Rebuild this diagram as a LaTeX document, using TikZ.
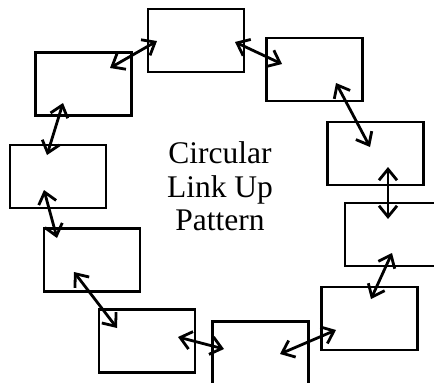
\documentclass[tikz,border=0pt]{standalone}
\usepackage{fontspec}
\setmainfont{Liberation Serif}
\usetikzlibrary{arrows.meta}

\tikzset{
    linkbox/.style={draw,line width=2.2pt,minimum width=96pt,minimum height=63pt,inner sep=0pt},
    linkup/.style={line width=2.8pt,{Straight Barb[length=11pt,width=18pt,line width=2.8pt]}-{Straight Barb[length=11pt,width=18pt,line width=2.8pt]}}
}

\begin{document}
\begin{tikzpicture}[x=1pt,y=-1pt]
        \useasboundingbox (0,0) rectangle (434,383);
        \node [linkbox] (top) at (196,40.5) {};
        \node [linkbox] (upleft) at (83.5,84) {};
        \node [linkbox] (left) at (58,176.5) {};
        \node [linkbox] (lowleft) at (92,260) {};
        \node [linkbox] (botleft) at (147,341) {};
        \node [linkbox] (bottom) at (260.5,353) {};
        \node [linkbox] (botright) at (369.5,318.5) {};
        \node [linkbox] (right) at (393,234.5) {};
        \node [linkbox] (rightup) at (375.5,153.5) {};
        \node [linkbox] (upright) at (314.5,69.5) {};
        \node [anchor=north,inner sep=0pt,align=center,font=\fontsize{31.5}{33.5}\selectfont] (title) at (220,141.5) {Circular\\Link Up\\Pattern};
        \draw [linkup] ([shift={(39,1.5)}]top.center) -- ([shift={(-32.5,-5.5)}]upright.center);
        \draw [linkup] ([shift={(-39,0.5)}]top.center) -- ([shift={(26.5,-16)}]upleft.center);
        \draw [linkup] ([shift={(-20.5,19)}]upleft.center) -- ([shift={(-11,-21.5)}]left.center);
        \draw [linkup] ([shift={(-14,13.5)}]left.center) -- ([shift={(-35,-22)}]lowleft.center);
        \draw [linkup] ([shift={(-18,12)}]lowleft.center) -- ([shift={(-30,-13)}]botleft.center);
        \draw [linkup] ([shift={(31,-4)}]botleft.center) -- ([shift={(-36.5,-4)}]bottom.center);
        \draw [linkup] ([shift={(19.5,1)}]bottom.center) -- ([shift={(-33.5,11.5)}]botright.center);
        \draw [linkup] ([shift={(1.5,-19.5)}]botright.center) -- ([shift={(-1,18.5)}]right.center);
        \draw [linkup] ([shift={(-5,-15.5)}]right.center) -- ([shift={(12.5,13.5)}]rightup.center);
        \draw [linkup] ([shift={(-5.5,-6.5)}]rightup.center) -- ([shift={(21.5,13.5)}]upright.center);
\end{tikzpicture}
\end{document}
